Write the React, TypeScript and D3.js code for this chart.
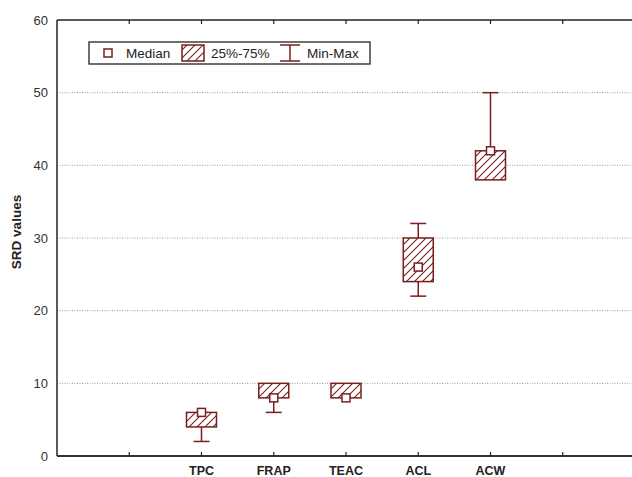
import React from 'react';
import * as d3 from 'd3';

const categories = ['TPC', 'FRAP', 'TEAC', 'ACL', 'ACW'];
const medians = [6, 8, 8, 26, 42];
const q1 = [4, 8, 8, 24, 38];
const q3 = [6, 10, 10, 30, 42];
const mins = [2, 6, 8, 22, 38];
const maxs = [6, 10, 10, 32, 50];
const yTicks = [0, 10, 20, 30, 40, 50, 60];

const W = 632;
const H = 477;
const margin = { left: 57, top: 20, right: 635, bottom: 456 };
const color = '#7a1e1e';

export default function App() {
  // 8 slots on the x axis; the categories sit at slots 2..6
  const x = d3.scaleLinear().domain([0, 8]).range([margin.left, margin.right]);
  const y = d3.scaleLinear().domain([0, 60]).range([margin.bottom, margin.top]);
  const boxW = 30;
  const capW = 16;
  const medS = 8;

  return (
    <svg width={W} height={H} style={{ position: 'absolute', left: 0, top: 0 }}
      fontFamily="Arial, 'Liberation Sans', sans-serif">
      <defs>
        <pattern id="hatch" patternUnits="userSpaceOnUse" width="8" height="8">
          <rect width="8" height="8" fill="white" />
          <path d="M-2,2 L2,-2 M0,8 L8,0 M6,10 L10,6" stroke={color} strokeWidth="1.1" />
        </pattern>
      </defs>
      <rect width={W} height={H} fill="white" />

      {/* gridlines */}
      {yTicks.slice(1, -1).map(t => (
        <line key={t} x1={margin.left} x2={margin.right} y1={y(t)} y2={y(t)}
          stroke="#999" strokeWidth="1" strokeDasharray="1,1.5" />
      ))}

      {/* frame */}
      <line x1={margin.left} x2={margin.right} y1={margin.top} y2={margin.top} stroke="#222" strokeWidth="1.5" />
      <line x1={margin.left} x2={margin.left} y1={margin.top} y2={margin.bottom} stroke="#222" strokeWidth="1.5" />
      <line x1={margin.left} x2={margin.right} y1={margin.bottom} y2={margin.bottom} stroke="#333" strokeWidth="2.2" />

      {/* x ticks */}
      {d3.range(1, 8).map(i => (
        <g key={i}>
          <line x1={x(i)} x2={x(i)} y1={margin.top} y2={margin.top + 4} stroke="#222" strokeWidth="1.2" />
          <line x1={x(i)} x2={x(i)} y1={margin.bottom - 4} y2={margin.bottom} stroke="#222" strokeWidth="1.2" />
        </g>
      ))}

      {/* y tick labels */}
      {yTicks.map(t => (
        <text key={t} x={margin.left - 9} y={y(t)} dy="0.35em" textAnchor="end" fontSize="13" fill="#333">{t}</text>
      ))}
      <text transform={`translate(21,232) rotate(-90)`} textAnchor="middle" fontSize="13.5" fontWeight="bold" fill="#222">SRD values</text>

      {/* x labels */}
      {categories.map((c, i) => (
        <text key={c} x={x(i + 2)} y={475} textAnchor="middle" fontSize="12.5" fontWeight="bold" fill="#222">{c}</text>
      ))}

      {/* boxes */}
      {categories.map((c, i) => {
        const cx = x(i + 2);
        return (
          <g key={c}>
            {maxs[i] > q3[i] && (
              <g stroke={color} strokeWidth="1.5">
                <line x1={cx} x2={cx} y1={y(maxs[i])} y2={y(q3[i])} />
                <line x1={cx - capW / 2} x2={cx + capW / 2} y1={y(maxs[i])} y2={y(maxs[i])} />
              </g>
            )}
            {mins[i] < q1[i] && (
              <g stroke={color} strokeWidth="1.5">
                <line x1={cx} x2={cx} y1={y(q1[i])} y2={y(mins[i])} />
                <line x1={cx - capW / 2} x2={cx + capW / 2} y1={y(mins[i])} y2={y(mins[i])} />
              </g>
            )}
            <rect x={cx - boxW / 2} y={y(q3[i])} width={boxW} height={y(q1[i]) - y(q3[i])}
              fill="url(#hatch)" stroke={color} strokeWidth="1.5" />
            <rect x={cx - medS / 2} y={y(medians[i]) - medS / 2} width={medS} height={medS}
              fill="white" stroke={color} strokeWidth="1.5" />
          </g>
        );
      })}

      {/* legend */}
      <g>
        <rect x={89} y={42} width={281} height={22} fill="white" stroke="#222" strokeWidth="1.3" />
        <rect x={104} y={49} width={8} height={8} fill="white" stroke={color} strokeWidth="1.5" />
        <text x={126} y={57.5} fontSize="13.5" fill="#222">Median</text>
        <rect x={182} y={45} width={22} height={16} fill="url(#hatch)" stroke={color} strokeWidth="1.5" />
        <text x={211} y={57.5} fontSize="13.5" fill="#222">25%-75%</text>
        <g stroke={color} strokeWidth="1.5">
          <line x1={280} x2={300} y1={45} y2={45} />
          <line x1={290} x2={290} y1={45} y2={61} />
          <line x1={280} x2={300} y1={61} y2={61} />
        </g>
        <text x={307} y={57.5} fontSize="13.5" fill="#222">Min-Max</text>
      </g>
    </svg>
  );
}
